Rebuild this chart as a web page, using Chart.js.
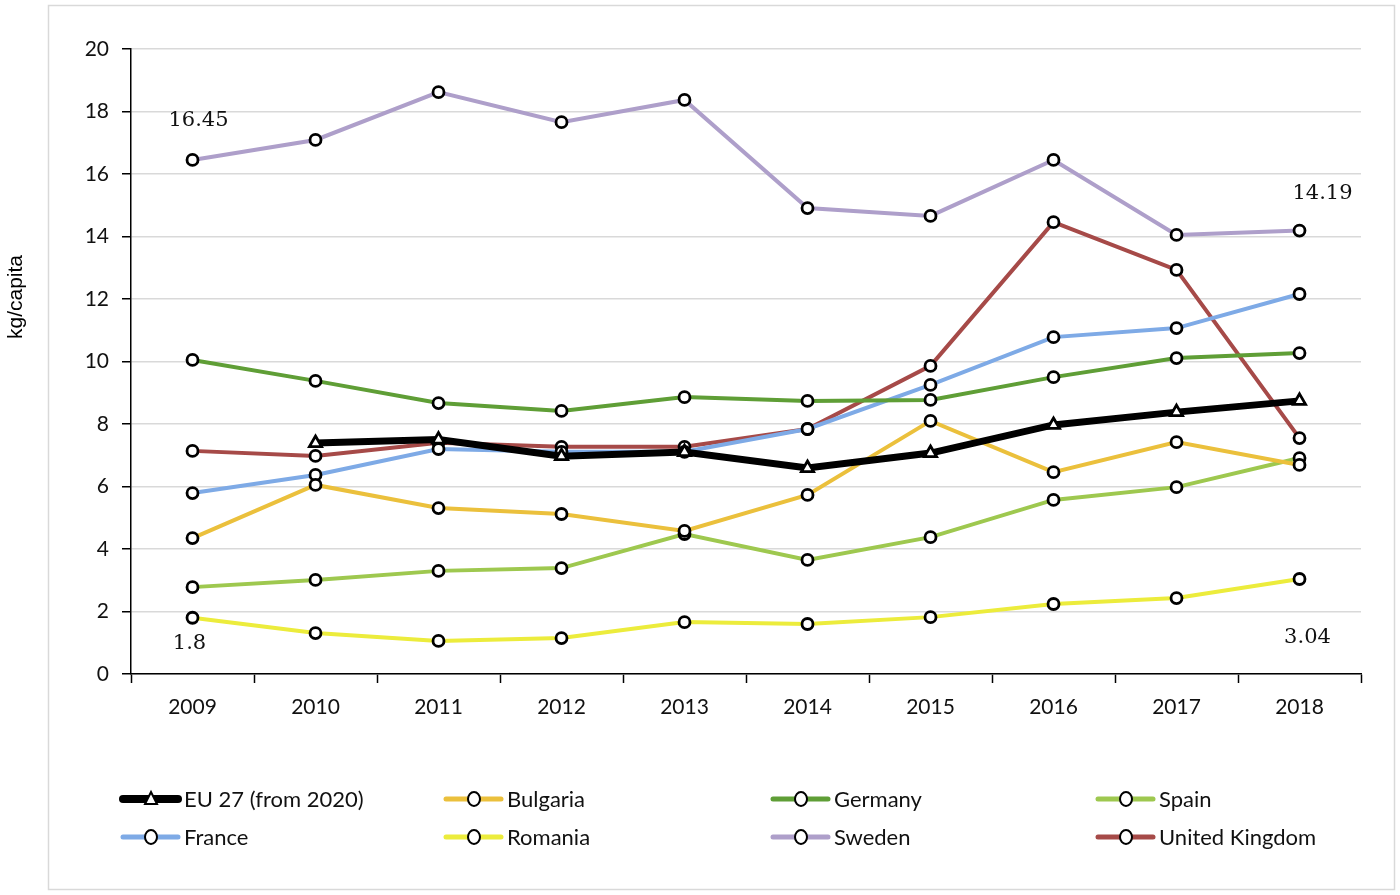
<!DOCTYPE html>
<html>
<head>
<meta charset="utf-8">
<script src="https://cdn.jsdelivr.net/npm/chart.js@4.4.1/dist/chart.umd.min.js"></script>
<style>
  html, body { margin: 0; padding: 0; background: #fff; }
  #wrap { position: relative; width: 1400px; height: 895px; }
</style>
</head>
<body>
<div id="wrap"><canvas id="chart" width="1400" height="895"></canvas></div>
<script>
// ---- data ----
const years = ['2009', '2010', '2011', '2012', '2013', '2014', '2015', '2016', '2017', '2018'];

const eu27     = [null, 7.39, 7.50, 6.97, 7.10, 6.59, 7.07, 7.97, 8.38, 8.74];
const bulgaria = [4.35, 6.05, 5.31, 5.12, 4.58, 5.73, 8.10, 6.46, 7.42, 6.69];
const germany  = [10.05, 9.38, 8.67, 8.42, 8.86, 8.74, 8.77, 9.50, 10.11, 10.27];
const spain    = [2.78, 3.01, 3.30, 3.39, 4.48, 3.65, 4.38, 5.57, 5.98, 6.91];
const france   = [5.79, 6.37, 7.20, 7.11, 7.11, 7.84, 9.25, 10.78, 11.07, 12.16];
const romania  = [1.80, 1.31, 1.06, 1.15, 1.66, 1.60, 1.82, 2.24, 2.43, 3.04];
const sweden   = [16.45, 17.09, 18.62, 17.66, 18.37, 14.91, 14.66, 16.45, 14.05, 14.19];
const uk       = [7.14, 6.98, 7.40, 7.27, 7.27, 7.84, 9.86, 14.46, 12.93, 7.55];

const seriesNames = ['EU 27 (from 2020)', 'Bulgaria', 'Germany', 'Spain',
                     'France', 'Romania', 'Sweden', 'United Kingdom'];
const seriesData = [eu27, bulgaria, germany, spain, france, romania, sweden, uk];
const seriesColors = ['#000000', '#ebc03c', '#5f9e36', '#9ec84f',
                      '#7eaae6', '#ecec3c', '#ae9fca', '#a64a48'];

const yTicksMin = 0, yTicksMax = 20, yStep = 2;

// end-point value labels: [series index, point index, dx, dy]
const valueLabels = [[6, 0, 6, -39], [6, 9, 23, -37], [5, 0, -3, 26], [5, 9, 8, 59]];

const datasets = seriesNames.map((name, i) => ({
    label: name,
    data: seriesData[i],
    borderColor: seriesColors[i],
    backgroundColor: seriesColors[i],
    borderWidth: i === 0 ? 7 : 4,
    pointStyle: i === 0 ? 'triangle' : 'circle',
    pointRadius: i === 0 ? 7 : 5.5,
    pointBorderWidth: 2.8,
    pointBorderColor: '#000',
    pointBackgroundColor: '#fff',
    tension: 0
}));

// frame, y title, legend, value labels
const extras = {
    id: 'extras',
    beforeDraw(chart) {
        const ctx = chart.ctx;
        ctx.save();
        ctx.strokeStyle = '#d9d9d9';
        ctx.lineWidth = 1.5;
        ctx.strokeRect(48.5, 5.5, 1346, 884);
        ctx.restore();
    },
    afterDraw(chart) {
        const ctx = chart.ctx;
        ctx.save();

        // y axis title
        ctx.translate(16, 297);
        ctx.rotate(-Math.PI / 2);
        ctx.font = '21px "Liberation Sans", Arial, sans-serif';
        ctx.fillStyle = '#000';
        ctx.textAlign = 'center';
        ctx.textBaseline = 'middle';
        ctx.fillText('kg/capita', 0, 0);
        ctx.setTransform(1, 0, 0, 1, 0, 0);

        // value labels
        ctx.font = '21px "DejaVu Serif", serif';
        ctx.fillStyle = '#111';
        valueLabels.forEach(([s, p, dx, dy]) => {
            const pt = chart.getDatasetMeta(s).data[p];
            ctx.fillText(String(seriesData[s][p]), pt.x + dx, pt.y + dy);
        });

        // legend, 4 columns x 2 rows
        const colX = [120, 443, 770, 1095];
        const rowY = [799, 837];
        chart.data.datasets.forEach((ds, i) => {
            const x0 = colX[i % 4];
            const y0 = rowY[Math.floor(i / 4)];
            ctx.strokeStyle = ds.borderColor;
            ctx.lineWidth = i === 0 ? 8 : 5;
            ctx.lineCap = 'round';
            ctx.beginPath();
            ctx.moveTo(x0 + 3, y0);
            ctx.lineTo(x0 + 58, y0);
            ctx.stroke();

            ctx.fillStyle = '#fff';
            ctx.strokeStyle = '#000';
            ctx.lineWidth = 2;
            ctx.beginPath();
            if (i === 0) {
                ctx.moveTo(x0 + 31, y0 - 7);
                ctx.lineTo(x0 + 37, y0 + 5);
                ctx.lineTo(x0 + 25, y0 + 5);
                ctx.closePath();
            } else {
                ctx.ellipse(x0 + 31, y0, 6, 7, 0, 0, Math.PI * 2);
            }
            ctx.fill();
            ctx.stroke();

            ctx.fillStyle = '#111';
            ctx.font = '22px Lato, "Open Sans", sans-serif';
            ctx.textAlign = 'left';
            ctx.textBaseline = 'middle';
            ctx.fillText(ds.label, x0 + 64, y0 + 1);
        });
        ctx.restore();
    }
};

new Chart(document.getElementById('chart'), {
    type: 'line',
    data: { labels: years, datasets: datasets },
    options: {
        responsive: false,
        animation: false,
        events: [],
        layout: { padding: { left: 0, top: 49, right: 39, bottom: 0 } },
        plugins: {
            legend: { display: false },
            tooltip: { enabled: false }
        },
        scales: {
            x: {
                type: 'category',
                offset: true,
                afterFit: s => { s.height = 895 - 674; },
                grid: {
                    offset: true,
                    drawOnChartArea: false,
                    drawTicks: true,
                    tickLength: 9,
                    tickColor: '#000',
                    tickWidth: 1.5
                },
                border: { color: '#000', width: 1.5 },
                ticks: {
                    color: '#111',
                    padding: 12,
                    font: { family: 'Lato, "Open Sans", sans-serif', size: 21 }
                }
            },
            y: {
                min: yTicksMin,
                max: yTicksMax,
                afterFit: s => { s.width = 131; },
                grid: {
                    color: '#d9d9d9',
                    lineWidth: 1.5,
                    tickLength: 9,
                    tickColor: '#000',
                    tickWidth: 1.5
                },
                border: { color: '#000', width: 1.5 },
                ticks: {
                    stepSize: yStep,
                    color: '#111',
                    padding: 13,
                    font: { family: 'Lato, "Open Sans", sans-serif', size: 21 }
                }
            }
        }
    },
    plugins: [extras]
});
</script>
</body>
</html>
